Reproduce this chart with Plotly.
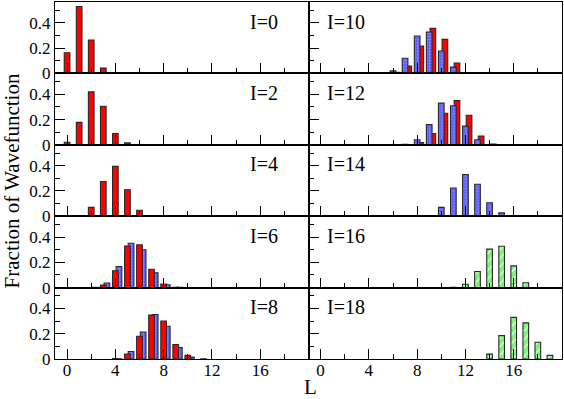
import plotly.graph_objects as go
from plotly.subplots import make_subplots

# Spin of each panel, left column top->bottom then right column
spins_left = [0, 2, 4, 6, 8]
spins_right = [10, 12, 14, 16, 18]

# Red (solid) components: (L values, fractions)
L_red_I0 = [0, 1, 2, 3]
red_I0 = [0.164, 0.53, 0.265, 0.042]
L_red_I2 = [0, 1, 2, 3, 4, 5]
red_I2 = [0.02, 0.178, 0.42, 0.305, 0.09, 0.015]
L_red_I4 = [1, 2, 3, 4, 5, 6]
red_I4 = [0.005, 0.07, 0.275, 0.395, 0.21, 0.047]
L_red_I6 = [3, 4, 5, 6, 7, 8, 9]
red_I6 = [0.02, 0.133, 0.33, 0.34, 0.146, 0.029, 0.002]
L_red_I8 = [4, 5, 6, 7, 8, 9, 10]
red_I8 = [0.004, 0.04, 0.18, 0.348, 0.30, 0.115, 0.029]
L_red_I10 = [6, 7, 8, 9, 10, 11, 12]
red_I10 = [0.008, 0.058, 0.217, 0.357, 0.27, 0.082, 0.005]
L_red_I12 = [8, 9, 10, 11, 12, 13, 14]
red_I12 = [0.018, 0.09, 0.25, 0.35, 0.234, 0.07, 0.005]

# Blue (dotted) components
L_blue_I6 = [2, 3, 4, 5, 6, 7, 8, 9]
blue_I6 = [0.003, 0.037, 0.167, 0.352, 0.30, 0.117, 0.023, 0.003]
L_blue_I8 = [4, 5, 6, 7, 8, 9, 10, 11]
blue_I8 = [0.002, 0.06, 0.214, 0.353, 0.26, 0.09, 0.016, 0.002]
L_blue_I10 = [5, 6, 7, 8, 9, 10, 11, 12]
blue_I10 = [0.002, 0.02, 0.12, 0.296, 0.328, 0.177, 0.05, 0.002]
L_blue_I12 = [7, 8, 9, 10, 11, 12, 13]
blue_I12 = [0.003, 0.04, 0.16, 0.33, 0.31, 0.148, 0.04]
L_blue_I14 = [9, 10, 11, 12, 13, 14, 15]
blue_I14 = [0.003, 0.07, 0.224, 0.33, 0.253, 0.107, 0.026]

# Green (hatched) components
L_green_I16 = [11, 12, 13, 14, 15, 16, 17]
green_I16 = [0.002, 0.026, 0.128, 0.305, 0.328, 0.172, 0.039]
L_green_I18 = [14, 15, 16, 17, 18, 19]
green_I18 = [0.039, 0.185, 0.33, 0.286, 0.133, 0.029]

x_ticks = [0, 4, 8, 12, 16]
x_minor = [2, 6, 10, 14, 18]
y_ticks = [0, 0.2, 0.4]
y_tick_text = ["0", "0.2", "0.4"]
y_minor = [0.1, 0.3, 0.5]

FONT = "Liberation Serif, Times New Roman, serif"
W = 0.47      # bar width in L units
SHIFT = 0.3   # offset of the second component

STYLES = {
    "red": dict(color="#ff0000"),
    "blue": dict(color="#6464ff",
                 pattern=dict(shape=".", fgcolor="#c0c0ff", bgcolor="#5c5cff",
                              size=3, solidity=0.3)),
    "green": dict(color="#ffffff",
                  pattern=dict(shape="/", fgcolor="#00e600", bgcolor="#ffffff",
                               size=6, solidity=0.85)),
}


def bar(L, vals, kind, shifted=False):
    style = dict(STYLES[kind])
    style["line"] = dict(color="#282828", width=1.1)
    return go.Bar(
        x=L, y=vals, width=W,
        offset=(-W / 2 + SHIFT) if shifted else -W / 2,
        marker=style, showlegend=False,
    )


fig = make_subplots(rows=5, cols=2, horizontal_spacing=0, vertical_spacing=0)

# (row, col): list of (L, values, kind, shifted) -- behind first, front last
panels = {
    (1, 1): [(L_red_I0, red_I0, "red", False)],
    (2, 1): [(L_red_I2, red_I2, "red", False)],
    (3, 1): [(L_red_I4, red_I4, "red", False)],
    (4, 1): [(L_blue_I6, blue_I6, "blue", True), (L_red_I6, red_I6, "red", False)],
    (5, 1): [(L_blue_I8, blue_I8, "blue", True), (L_red_I8, red_I8, "red", False)],
    (1, 2): [(L_red_I10, red_I10, "red", True), (L_blue_I10, blue_I10, "blue", False)],
    (2, 2): [(L_red_I12, red_I12, "red", True), (L_blue_I12, blue_I12, "blue", False)],
    (3, 2): [(L_blue_I14, blue_I14, "blue", False)],
    (4, 2): [(L_green_I16, green_I16, "green", False)],
    (5, 2): [(L_green_I18, green_I18, "green", False)],
}

for (r, c), series in panels.items():
    for L, vals, kind, shifted in series:
        fig.add_trace(bar(L, vals, kind, shifted), row=r, col=c)

axis_common = dict(showline=True, mirror=True, linecolor="black", linewidth=1.2,
                   ticks="inside", ticklen=10, tickwidth=1.2, tickcolor="black",
                   showgrid=False, zeroline=False,
                   tickfont=dict(family=FONT, size=17, color="black"))

for r in range(1, 6):
    for c in range(1, 3):
        fig.update_xaxes(range=[-1, 20], tickmode="array", tickvals=x_ticks,
                         minor=dict(tickmode="array", tickvals=x_minor, ticks="inside",
                                    ticklen=5, tickwidth=1.2, tickcolor="black"),
                         showticklabels=(r == 5), ticklabelstandoff=-5,
                         **axis_common, row=r, col=c)
        fig.update_yaxes(range=[0, 0.566], tickmode="array", tickvals=y_ticks,
                         ticktext=y_tick_text,
                         minor=dict(tickmode="array", tickvals=y_minor, ticks="inside",
                                    ticklen=5, tickwidth=1.2, tickcolor="black"),
                         showticklabels=(c == 1), **axis_common, row=r, col=c)

# Panel labels
for i, s in enumerate(spins_left):
    n = i * 2 + 1
    fig.add_annotation(text=f"I={s}", x=17.6, y=0.41, xref=f"x{n}", yref=f"y{n}",
                       xanchor="right", yanchor="middle", showarrow=False,
                       font=dict(family=FONT, size=20, color="black"))
for i, s in enumerate(spins_right):
    n = i * 2 + 2
    fig.add_annotation(text=f"I={s}", x=0.4, y=0.41, xref=f"x{n}", yref=f"y{n}",
                       xanchor="left", yanchor="middle", showarrow=False,
                       font=dict(family=FONT, size=20, color="black"))

fig.add_annotation(text="Fraction of Wavefunction", x=-0.085, y=0.5, xref="paper",
                   yref="paper", textangle=-90, showarrow=False,
                   xanchor="center", yanchor="middle",
                   font=dict(family=FONT, size=21, color="black"))
fig.add_annotation(text="L", x=0.503, y=-0.078, xref="paper", yref="paper",
                   showarrow=False, xanchor="center", yanchor="middle",
                   font=dict(family=FONT, size=21, color="black"))

fig.update_layout(
    width=564, height=399,
    margin=dict(l=55, r=2, t=2, b=40),
    barmode="overlay",
    paper_bgcolor="white", plot_bgcolor="white",
)

# drop the default 8px page margin so the figure sits at the window corner
fig.write_html("out.html", config={"displayModeBar": False},
               post_script="document.body.style.margin='0px';")
